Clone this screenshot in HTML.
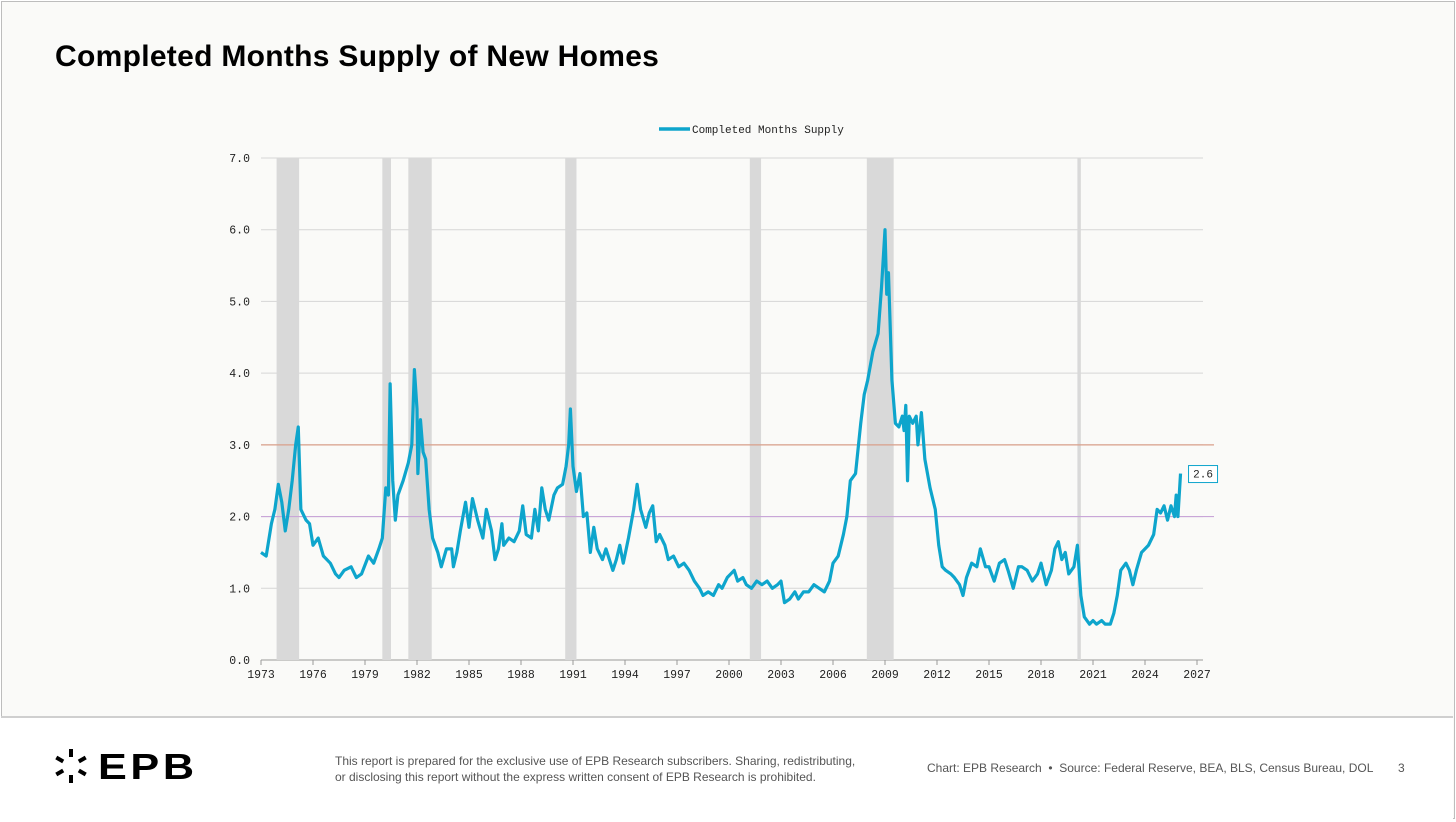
<!DOCTYPE html>
<html><head><meta charset="utf-8"><style>
body{margin:0;width:1456px;height:822px;background:#fff;font-family:"Liberation Sans",sans-serif;overflow:hidden;position:relative}
#frame{position:absolute;left:1px;top:1px;width:1452px;height:816px;border:1px solid #bdbdbd;background:#fafaf8}
#foot{position:absolute;left:1px;top:716px;width:1452px;height:101px;background:#fff;border-top:2px solid #cfcfcf}
h1{position:absolute;left:55px;top:40px;margin:0;font-size:30px;font-weight:bold;letter-spacing:0.3px;color:#000}
.ft{position:absolute;font-size:12px;color:#555;line-height:16px}
</style></head><body>
<div id="frame"></div>
<h1>Completed Months Supply of New Homes</h1>
<svg id="chart" width="1456" height="716" style="position:absolute;left:0;top:0"></svg>
<div id="foot">
 <div style="position:absolute;left:52px;top:30px;width:150px;height:40px">
  <svg width="40" height="40" style="position:absolute;left:0;top:0">
   <g fill="#000" transform="translate(18,18)">
    <rect x="-2" y="-17" width="4" height="8"/><rect x="-2" y="9" width="4" height="8"/>
    <rect x="-2" y="-17" width="4" height="8" transform="rotate(60)"/><rect x="-2" y="9" width="4" height="8" transform="rotate(60)"/>
    <rect x="-2" y="-17" width="4" height="8" transform="rotate(120)"/><rect x="-2" y="9" width="4" height="8" transform="rotate(120)"/>
   </g></svg>
  <span style="position:absolute;left:45px;top:0;font-size:36px;font-weight:bold;line-height:38px;color:#000;letter-spacing:3px;display:inline-block;transform:scaleX(1.2);transform-origin:left">EPB</span>
 </div>
 <div class="ft" style="left:334px;top:35px">This report is prepared for the exclusive use of EPB Research subscribers. Sharing, redistributing,<br>or disclosing this report without the express written consent of EPB Research is prohibited.</div>
 <div class="ft" style="left:926px;top:42px">Chart: EPB Research &nbsp;•&nbsp; Source: Federal Reserve, BEA, BLS, Census Bureau, DOL</div>
 <div class="ft" style="left:1397px;top:42px">3</div>
</div>
<script>
const yTicks=[0,1,2,3,4,5,6,7];
const xTicks=[1973,1976,1979,1982,1985,1988,1991,1994,1997,2000,2003,2006,2009,2012,2015,2018,2021,2024,2027];
const recessions=[[1973.9,1975.2],[1980.0,1980.5],[1981.5,1982.85],[1990.55,1991.2],[2001.2,2001.85],[2007.95,2009.5],[2020.1,2020.3]];
const years=[1973.0,1973.3,1973.6,1973.8,1974.0,1974.2,1974.4,1974.6,1974.8,1975.0,1975.15,1975.3,1975.6,1975.8,1976.0,1976.3,1976.6,1977.0,1977.3,1977.5,1977.8,1978.2,1978.5,1978.8,1979.2,1979.5,1979.8,1980.0,1980.2,1980.35,1980.45,1980.6,1980.75,1980.9,1981.2,1981.5,1981.7,1981.85,1982.0,1982.05,1982.2,1982.35,1982.5,1982.7,1982.9,1983.2,1983.4,1983.7,1984.0,1984.1,1984.3,1984.5,1984.8,1985.0,1985.2,1985.5,1985.8,1986.0,1986.3,1986.5,1986.7,1986.9,1987.0,1987.3,1987.6,1987.9,1988.1,1988.3,1988.6,1988.8,1989.0,1989.2,1989.4,1989.6,1989.9,1990.1,1990.4,1990.6,1990.75,1990.85,1991.0,1991.2,1991.4,1991.6,1991.8,1992.0,1992.2,1992.4,1992.7,1992.9,1993.1,1993.3,1993.5,1993.7,1993.9,1994.2,1994.5,1994.7,1994.9,1995.2,1995.4,1995.6,1995.8,1996.0,1996.3,1996.5,1996.8,1997.1,1997.4,1997.7,1998.0,1998.3,1998.5,1998.8,1999.1,1999.4,1999.6,1999.9,2000.1,2000.3,2000.5,2000.8,2001.0,2001.3,2001.6,2001.9,2002.2,2002.5,2002.8,2003.0,2003.2,2003.5,2003.8,2004.0,2004.3,2004.6,2004.9,2005.2,2005.5,2005.8,2006.0,2006.3,2006.6,2006.8,2007.0,2007.3,2007.6,2007.8,2008.0,2008.3,2008.6,2008.8,2009.0,2009.1,2009.2,2009.4,2009.6,2009.8,2010.0,2010.1,2010.2,2010.3,2010.4,2010.6,2010.8,2010.9,2011.1,2011.3,2011.6,2011.9,2012.1,2012.3,2012.5,2012.8,2013.0,2013.3,2013.5,2013.7,2014.0,2014.3,2014.5,2014.8,2015.0,2015.3,2015.6,2015.9,2016.1,2016.4,2016.7,2016.9,2017.2,2017.5,2017.8,2018.0,2018.3,2018.6,2018.8,2019.0,2019.2,2019.4,2019.6,2019.9,2020.1,2020.3,2020.5,2020.8,2021.0,2021.2,2021.5,2021.7,2022.0,2022.2,2022.4,2022.6,2022.9,2023.1,2023.3,2023.5,2023.8,2024.0,2024.2,2024.5,2024.7,2024.9,2025.1,2025.3,2025.5,2025.7,2025.8,2025.9,2026.05];
const supply=[1.5,1.45,1.9,2.1,2.45,2.2,1.8,2.1,2.5,3.0,3.25,2.1,1.95,1.9,1.6,1.7,1.45,1.35,1.2,1.15,1.25,1.3,1.15,1.2,1.45,1.35,1.55,1.7,2.4,2.3,3.85,2.5,1.95,2.3,2.5,2.75,3.0,4.05,3.5,2.6,3.35,2.9,2.8,2.1,1.7,1.5,1.3,1.55,1.55,1.3,1.5,1.8,2.2,1.85,2.25,1.95,1.7,2.1,1.8,1.4,1.55,1.9,1.6,1.7,1.65,1.8,2.15,1.75,1.7,2.1,1.8,2.4,2.1,1.95,2.3,2.4,2.45,2.7,3.0,3.5,2.7,2.35,2.6,2.0,2.05,1.5,1.85,1.55,1.4,1.55,1.4,1.25,1.4,1.6,1.35,1.7,2.1,2.45,2.1,1.85,2.05,2.15,1.65,1.75,1.6,1.4,1.45,1.3,1.35,1.25,1.1,1.0,0.9,0.95,0.9,1.05,1.0,1.15,1.2,1.25,1.1,1.15,1.05,1.0,1.1,1.05,1.1,1.0,1.05,1.1,0.8,0.85,0.95,0.85,0.95,0.95,1.05,1.0,0.95,1.1,1.35,1.45,1.75,2.0,2.5,2.6,3.3,3.7,3.9,4.3,4.55,5.2,6.0,5.1,5.4,3.9,3.3,3.25,3.4,3.2,3.55,2.5,3.4,3.3,3.4,3.0,3.45,2.8,2.4,2.1,1.6,1.3,1.25,1.2,1.15,1.05,0.9,1.15,1.35,1.3,1.55,1.3,1.3,1.1,1.35,1.4,1.25,1.0,1.3,1.3,1.25,1.1,1.2,1.35,1.05,1.25,1.55,1.65,1.4,1.5,1.2,1.3,1.6,0.9,0.6,0.5,0.55,0.5,0.55,0.5,0.5,0.65,0.9,1.25,1.35,1.25,1.05,1.25,1.5,1.55,1.6,1.75,2.1,2.05,2.15,1.95,2.15,2.0,2.3,2.0,2.6];
const refLines=[3.0,2.0];
const lastLabel="2.6";

const svg=document.getElementById('chart');const NS='http://www.w3.org/2000/svg';
const X0=261,X1=1197,Y0=660,Y1=158;
const xs=y=>X0+(y-1973)/(2027-1973)*(X1-X0);
const ys=v=>Y0-v/7*(Y0-Y1);
function mk(t,a){const e=document.createElementNS(NS,t);for(const k in a)e.setAttribute(k,a[k]);svg.appendChild(e);return e;}
yTicks.forEach(v=>{
 const l=mk('line',{x1:261,x2:1203,y1:ys(v),y2:ys(v),stroke:v===0?'#999':'#d6d6d6','stroke-width':1});
 
 
 const t=mk('text',{x:250,y:ys(v)+4,'text-anchor':'end','font-family':'Liberation Mono, monospace','font-size':11.5,fill:'#222'});
 t.textContent=v.toFixed(1);
 
 
});
recessions.forEach(r=>{
 const re=mk('rect',{x:xs(r[0]),y:Y1,width:xs(r[1])-xs(r[0]),height:Y0-Y1,fill:'#d9d9d9'});
 
 
});
xTicks.forEach(y=>{
 const tk=mk('line',{x1:xs(y),x2:xs(y),y1:Y0,y2:Y0+5,stroke:'#999'});
 
 
 const t=mk('text',{x:xs(y),y:678,'text-anchor':'middle','font-family':'Liberation Mono, monospace','font-size':11.5,fill:'#222'});
 t.textContent=y;
 
 
});
refLines.forEach((v,i)=>{
 const l=mk('line',{x1:261,x2:1214,y1:ys(v),y2:ys(v),stroke:i===0?'#d9a08a':'#c9a6d8','stroke-width':1.2});
 
 
});
const p=mk('polyline',{points:years.map((y,i)=>xs(y)+','+ys(supply[i])).join(' '),fill:'none',stroke:'#0ea5cc','stroke-width':3.2,'stroke-linejoin':'round'});


const lx=xs(years[years.length-1]),ly=ys(supply[supply.length-1]);
const b=mk('rect',{x:lx+8,y:ly-8,width:29,height:17,fill:'#fff',stroke:'#0ea5cc','stroke-width':1});


const bt=mk('text',{x:lx+22.5,y:ly+4,'text-anchor':'middle','font-family':'Liberation Mono, monospace','font-size':11,fill:'#222'});
bt.textContent=lastLabel;


const ll=mk('line',{x1:659,x2:690,y1:129,y2:129,stroke:'#0ea5cc','stroke-width':3.5});


const lt=mk('text',{x:692,y:133,'font-family':'Liberation Mono, monospace','font-size':11,fill:'#222'});
lt.textContent='Completed Months Supply';


</script>
</body></html>
